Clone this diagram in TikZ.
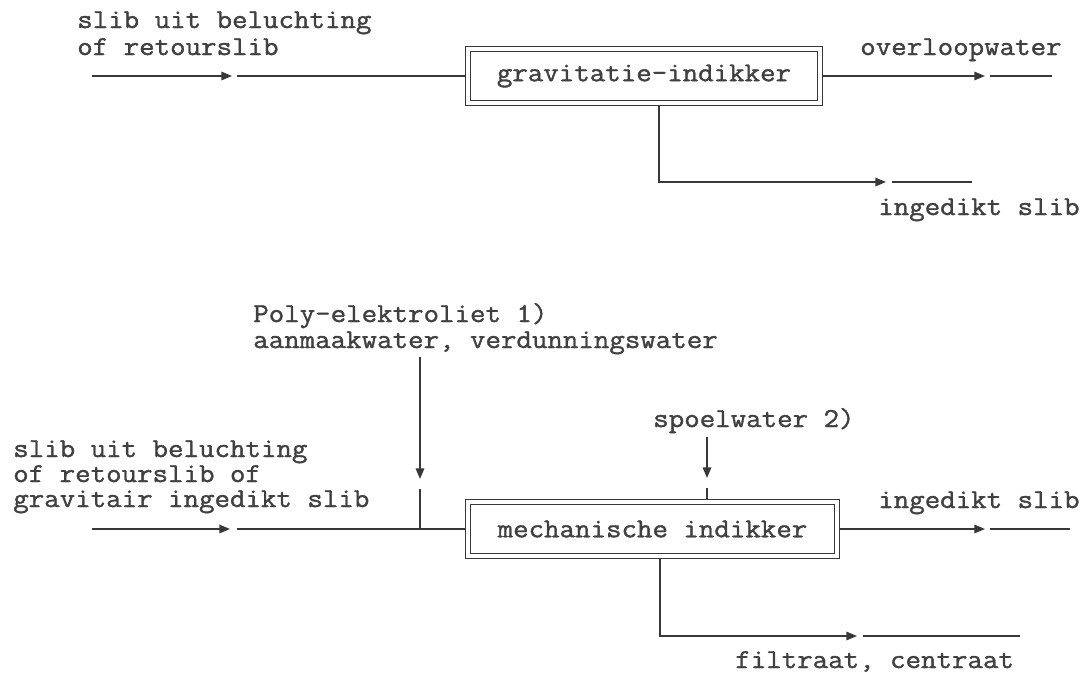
\documentclass[tikz,border=0pt]{standalone}
\usepackage{fontspec}
\newfontfamily\typewriter{Latin Modern Mono}[FakeStretch=1.1,FakeBold=1.3]
\usetikzlibrary{arrows.meta,calc}

\begin{document}
\begin{tikzpicture}[x=0.75pt,y=-0.75pt,
  flow/.style={draw=black!78, line width=1.1pt},
  tip/.style={flow,-{Triangle[length=8pt,width=6.4pt]}},
  lbl/.style={text=black!75, font=\typewriter\fontsize{20.5}{24}\selectfont,
    inner sep=0pt, anchor=base west},
  unit/.style={draw=black!78, line width=1.1pt, double, double distance=2.6pt,
    text=black!75, font=\typewriter\fontsize{20.5}{24}\selectfont,
    inner sep=0pt, minimum height=40.5pt}]
\useasboundingbox (0,0) rectangle (1090,672);

% ---------- gravity thickener ----------
\node[unit, minimum width=264pt] (grav) at (644,76) {gravitatie-indikker};

\node[lbl] (t1a) at (77,28) {slib uit beluchting};
\node[lbl] (t1b) at (77,55) {of retourslib};
\node[lbl] (t2)  at (860,55) {overloopwater};
\node[lbl] (t3)  at (878,215) {ingedikt slib};

\coordinate (in1) at (92,76);
\coordinate (m1)  at (232,76);
\coordinate (m1b) at (237,76);
\draw[tip] (in1) -- (m1);
\draw[flow, shorten >=1.9pt] (m1b) -- (grav.west);

\coordinate (o1)  at (985,76);
\coordinate (o1b) at (990,76);
\coordinate (o1e) at (1052,76);
\draw[tip, shorten <=1.9pt] (grav.east) -- (o1);
\draw[flow] (o1b) -- (o1e);

\coordinate (d1)  at (659,182);
\coordinate (d1t) at (886,182);
\coordinate (d1b) at (892,182);
\coordinate (d1e) at (972,182);
\draw[tip, shorten <=1.9pt] (grav.south -| d1) -- (d1) -- (d1t);
\draw[flow] (d1b) -- (d1e);

% ---------- mechanical thickener ----------
\node[unit, minimum width=276.75pt] (mech) at (652.5,529) {mechanische indikker};

\node[lbl] (t4a) at (253,322) {Poly-elektroliet 1)};
\node[lbl] (t4b) at (253,348) {aanmaakwater, verdunningswater};
\node[lbl] (t5)  at (653,427) {spoelwater 2)};
\node[lbl] (t6a) at (13,457) {slib uit beluchting};
\node[lbl] (t6b) at (13,482) {of retourslib of};
\node[lbl] (t6c) at (13,507) {gravitair ingedikt slib};
\node[lbl] (t7)  at (878,508) {ingedikt slib};
\node[lbl] (t8)  at (735,668) {filtraat, centraat};

\coordinate (in2) at (92,529);
\coordinate (m2)  at (230,529);
\coordinate (m2b) at (237,529);
\draw[tip] (in2) -- (m2);
\draw[flow, shorten >=1.9pt] (m2b) -- (mech.west);

\coordinate (p0)  at (420,357);
\coordinate (p1)  at (420,479);
\coordinate (p1b) at (420,489);
\coordinate (pj)  at (420,529);
\draw[tip] (p0) -- (p1);
\draw[flow] (p1b) -- (pj);

\coordinate (s0)  at (707,437);
\coordinate (s1)  at (707,478);
\coordinate (s1b) at (707,488);
\draw[tip] (s0) -- (s1);
\draw[flow, shorten >=1.9pt] (s1b) -- (s1b |- mech.north);

\coordinate (o2)  at (985,529);
\coordinate (o2b) at (990,529);
\coordinate (o2e) at (1070,529);
\draw[tip, shorten <=1.9pt] (mech.east) -- (o2);
\draw[flow] (o2b) -- (o2e);

\coordinate (d2)  at (660,636);
\coordinate (d2t) at (857,636);
\coordinate (d2b) at (863,636);
\coordinate (d2e) at (1020,636);
\draw[tip, shorten <=1.9pt] (mech.south -| d2) -- (d2) -- (d2t);
\draw[flow] (d2b) -- (d2e);
\end{tikzpicture}
\end{document}
